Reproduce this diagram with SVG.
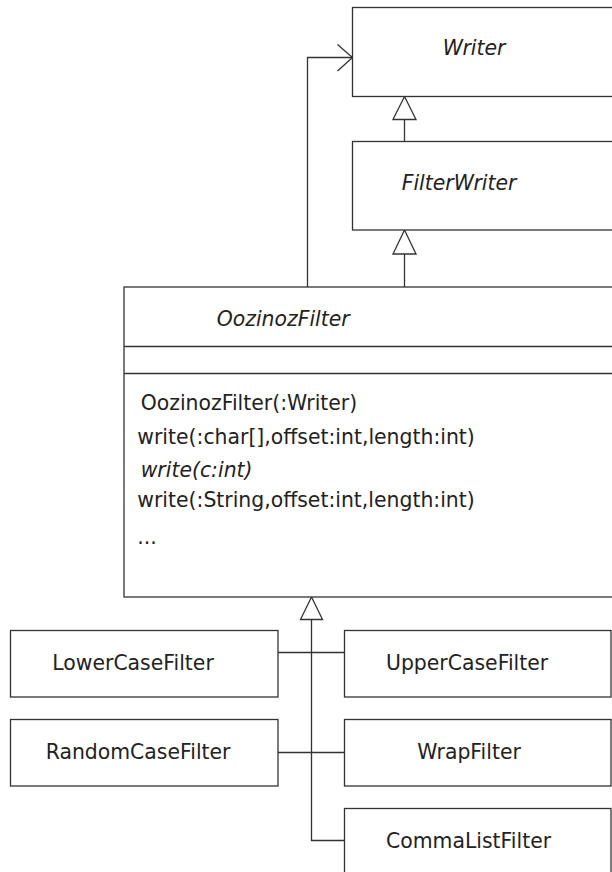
<svg xmlns="http://www.w3.org/2000/svg" width="612" height="872" viewBox="0 0 612 872">
<style>
  .box{fill:#fff;stroke:#333;stroke-width:1.3}
  .ln{fill:none;stroke:#333;stroke-width:1.3}
  .tri{fill:#fff;stroke:#333;stroke-width:1.3;stroke-linejoin:miter}
  text{font-family:"DejaVu Sans","Liberation Sans",sans-serif;font-size:20.4px;fill:#222}
  .it{font-style:italic}
</style>
<rect width="612" height="872" fill="#fff"/>
<g id="connectors">
  <polyline class="ln" points="307.5,287 307.5,57.5 352.5,57.5"/>
  <polyline class="ln" points="337.5,44.5 352.5,57.5 337.5,71"/>
  <line class="ln" x1="404.5" y1="119.5" x2="404.5" y2="141.5"/>
  <polygon class="tri" points="404.5,96.5 393,119.5 416,119.5"/>
  <line class="ln" x1="404.5" y1="254" x2="404.5" y2="287"/>
  <polygon class="tri" points="404.5,230 393,254 416,254"/>
  <polyline class="ln" points="311.5,619.5 311.5,840.5 344.5,840.5"/>
  <line class="ln" x1="278" y1="652.5" x2="344.5" y2="652.5"/>
  <line class="ln" x1="278" y1="752.5" x2="344.5" y2="752.5"/>
  <polygon class="tri" points="311.5,597 300.5,619.5 322.5,619.5"/>
</g>
<g id="Writer">
  <rect class="box" x="352.5" y="7.5" width="270" height="89"/>
  <text class="it" x="442.7" y="55">Writer</text>
</g>
<g id="FilterWriter">
  <rect class="box" x="352.5" y="141.5" width="270" height="88.5"/>
  <text class="it" x="401.7" y="190">FilterWriter</text>
</g>
<g id="OozinozFilter">
  <rect class="box" x="124" y="287" width="500" height="310"/>
  <line class="ln" x1="124" y1="346.5" x2="624" y2="346.5"/>
  <line class="ln" x1="124" y1="373.5" x2="624" y2="373.5"/>
  <text class="it" x="216.7" y="326">OozinozFilter</text>
  <text x="140.7" y="410">OozinozFilter(:Writer)</text>
  <text x="137.3" y="444">write(:char[],offset:int,length:int)</text>
  <text class="it" x="140.7" y="477">write(c:int)</text>
  <text x="137.3" y="507">write(:String,offset:int,length:int)</text>
  <text x="137.3" y="544">...</text>
</g>
<g id="LowerCaseFilter">
  <rect class="box" x="10.5" y="630.5" width="267.5" height="66.5"/>
  <text x="52.3" y="670">LowerCaseFilter</text>
</g>
<g id="UpperCaseFilter">
  <rect class="box" x="344.5" y="630.5" width="266.5" height="66.5"/>
  <text x="386" y="670">UpperCaseFilter</text>
</g>
<g id="RandomCaseFilter">
  <rect class="box" x="10.5" y="719.5" width="267.5" height="66.5"/>
  <text x="45.7" y="759">RandomCaseFilter</text>
</g>
<g id="WrapFilter">
  <rect class="box" x="344.5" y="719.5" width="266.5" height="66.5"/>
  <text x="417.3" y="759">WrapFilter</text>
</g>
<g id="CommaListFilter">
  <rect class="box" x="344.5" y="808.5" width="266.5" height="100"/>
  <text x="386" y="848.3">CommaListFilter</text>
</g>
</svg>
